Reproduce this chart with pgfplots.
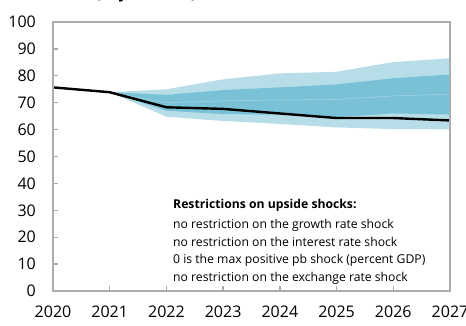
\documentclass[border=0pt]{standalone}
\usepackage{pgfplots}
\pgfplotsset{compat=1.18}
\usepgfplotslibrary{fillbetween}
\usepackage{fontspec}
\setmainfont{Open Sans}
\definecolor{lightb}{RGB}{183,222,232}
\definecolor{darkb}{RGB}{121,193,214}
\definecolor{medb}{RGB}{160,210,225}
\definecolor{framec}{RGB}{172,172,172}

\pgfplotstableread{
year p10 p25 p50 p75 p90
2021 73.9 73.9 73.9 73.9 73.9
2022 64.8 67.0 70.0 72.9 75.0
2023 63.2 65.8 70.7 74.7 78.7
2024 62.1 65.5 71.0 75.7 80.9
2025 60.8 64.6 71.2 76.8 81.5
2026 60.2 66.0 72.5 79.1 85.1
2027 60.1 65.6 73.2 80.5 86.5
}\fan

\pgfplotstableread{
year base
2020 75.7
2021 73.9
2022 68.3
2023 67.7
2024 66.0
2025 64.3
2026 64.3
2027 63.4
}\baseline

\begin{document}
\begin{tikzpicture}[x=1pt,y=1pt]
\begin{axis}[name=ax, at={(0,0)}, anchor=south west, scale only axis,
  width=397pt, height=269pt,
  xmin=2020, xmax=2027, ymin=0, ymax=100,
  xtick={2020,2021,...,2027}, ytick={0,10,...,100},
  /pgf/number format/assume math mode=true,
  /pgf/number format/1000 sep={},
  axis lines=box,
  axis line style={framec, line width=1.8pt},
  tick style={framec, line width=1.3pt},
  major tick length=5pt,
  tick align=inside, xtick pos=bottom, ytick pos=left,
  ticklabel style={font=\fontsize{16}{16}\selectfont, text=black},
  yticklabel style={inner sep=0pt, xshift=-17pt},
  xticklabel style={inner sep=0pt, yshift=-15pt},
  clip=true,
]
\addplot[draw=none, name path=p10] table[x=year, y=p10] {\fan};
\addplot[draw=none, name path=p25] table[x=year, y=p25] {\fan};
\addplot[draw=none, name path=p75] table[x=year, y=p75] {\fan};
\addplot[draw=none, name path=p90] table[x=year, y=p90] {\fan};
\addplot[lightb] fill between[of=p10 and p90];
\addplot[darkb] fill between[of=p25 and p75];
\addplot[medb, line width=0.6pt] table[x=year, y=p50] {\fan};
\addplot[black, line width=2.4pt] table[x=year, y=base] {\baseline};
\end{axis}
\draw[framec, line width=1.8pt] (0pt,0pt) rectangle (397pt,269pt);
\node[anchor=base west, inner sep=0pt, font=\fontsize{15}{15}\selectfont\bfseries] at (-38pt,292.5pt) {Restricted (Asymmetric) Distribution};
\begin{scope}[every node/.style={anchor=base west, inner sep=0pt, font=\fontsize{12.2}{12}\selectfont}]
\node at (120pt,83pt) {\bfseries Restrictions on upside shocks:};
\node at (120pt,62.8pt) {no restriction on the growth rate shock};
\node at (120pt,44.5pt) {no restriction on the interest rate shock};
\node at (120pt,28pt) {0 is the max positive pb shock (percent GDP)};
\node at (120pt,9.7pt) {no restriction on the exchange rate shock};
\end{scope}
\pgfresetboundingbox
\useasboundingbox (-53pt,-34pt) rectangle (413pt,291pt);
\end{tikzpicture}
\end{document}
